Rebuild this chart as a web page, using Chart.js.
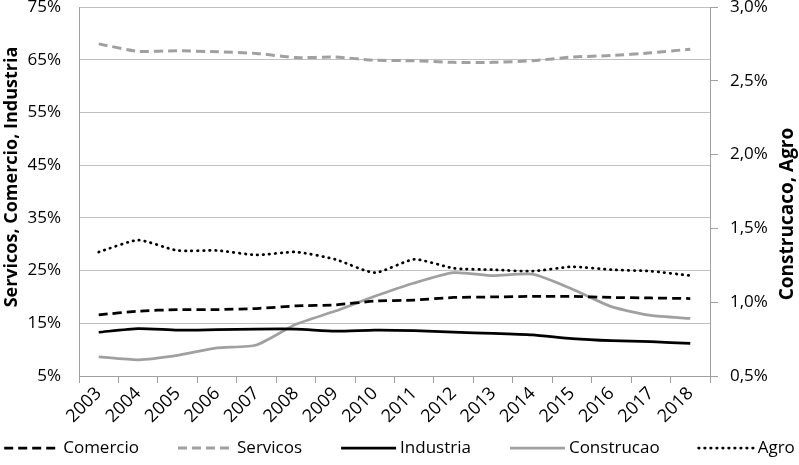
<!DOCTYPE html>
<html>
<head>
<meta charset="utf-8">
<script src="https://cdn.jsdelivr.net/npm/chart.js@4.4.1/dist/chart.umd.min.js"></script>
<style>
  body { margin: 0; background: #fff; }
</style>
</head>
<body>
<canvas id="grafico" width="799" height="465"></canvas>
<script>
// datos
var anos = ['2003', '2004', '2005', '2006', '2007', '2008', '2009', '2010',
            '2011', '2012', '2013', '2014', '2015', '2016', '2017', '2018'];
var comercio   = [16.6, 17.3, 17.6, 17.6, 17.8, 18.3, 18.5, 19.2, 19.4, 19.9, 20.0, 20.1, 20.1, 19.9, 19.8, 19.7];
var servicos   = [68.0, 66.6, 66.7, 66.5, 66.2, 65.4, 65.5, 64.9, 64.8, 64.5, 64.5, 64.8, 65.5, 65.8, 66.3, 67.0];
var industria  = [13.3, 14.0, 13.7, 13.8, 13.9, 13.9, 13.5, 13.7, 13.6, 13.3, 13.1, 12.8, 12.1, 11.7, 11.5, 11.2];
var construcao = [0.63, 0.61, 0.64, 0.69, 0.71, 0.85, 0.94, 1.04, 1.13, 1.20, 1.18, 1.19, 1.09, 0.97, 0.91, 0.89];
var agro       = [1.34, 1.42, 1.35, 1.35, 1.32, 1.34, 1.29, 1.20, 1.29, 1.23, 1.22, 1.21, 1.24, 1.22, 1.21, 1.18];

var tituloIzq = 'Servicos, Comercio, Industria';
var tituloDer = 'Construcaco, Agro';

var fuente = '"Open Sans", "Liberation Sans", sans-serif';
var gris = '#a0a0a0';

function serie(label, data, eje, color, ancho, dash, cap) {
    return {
        label: label,
        data: data,
        yAxisID: eje,
        borderColor: color,
        backgroundColor: color,
        borderWidth: ancho,
        borderDash: dash,
        borderCapStyle: cap || 'butt',
        pointRadius: 0,
        pointHoverRadius: 0,
        tension: 0.2,
        fill: false
    };
}

var datasets = [
    serie('Comercio', comercio, 'yIzq', '#000', 2.75, [9, 5]),
    serie('Servicos', servicos, 'yIzq', gris, 3, [9, 5]),
    serie('Industria', industria, 'yIzq', '#000', 2.75, []),
    serie('Construcao', construcao, 'yDer', gris, 2.75, []),
    serie('Agro', agro, 'yDer', '#000', 2.75, [0.5, 5.5], 'round')
];

// titulos de ejes y leyenda dibujados a mano
var extras = {
    id: 'extras',
    afterDraw: function(chart) {
        var ctx = chart.ctx;
        ctx.save();
        ctx.fillStyle = '#000';
        ctx.textBaseline = 'middle';
        ctx.textAlign = 'center';

        ctx.save();
        ctx.font = 'bold 18px ' + fuente;
        ctx.translate(12, 177);
        ctx.rotate(-Math.PI / 2);
        ctx.fillText(tituloIzq, 0, 0);
        ctx.restore();

        ctx.save();
        ctx.font = 'bold 19px ' + fuente;
        ctx.translate(788, 214);
        ctx.rotate(-Math.PI / 2);
        ctx.fillText(tituloDer, 0, 0);
        ctx.restore();

        // leyenda
        ctx.font = '17px ' + fuente;
        ctx.textAlign = 'left';
        var muestra = 55, hueco = 4, separa = 39;
        var ds = chart.data.datasets;
        var total = 0;
        ds.forEach(function(d, i) {
            total += muestra + hueco + ctx.measureText(d.label).width;
            if (i > 0) total += separa;
        });
        var x = (chart.width - total) / 2;
        var y = 448;
        ds.forEach(function(d) {
            ctx.save();
            ctx.strokeStyle = d.borderColor;
            ctx.lineWidth = d.borderWidth;
            ctx.setLineDash(d.borderDash);
            ctx.lineCap = d.borderCapStyle;
            ctx.beginPath();
            ctx.moveTo(x, y);
            ctx.lineTo(x + muestra, y);
            ctx.stroke();
            ctx.restore();
            x += muestra + hueco;
            ctx.fillText(d.label, x, y);
            x += ctx.measureText(d.label).width + separa;
        });
        ctx.restore();
    }
};

// los ejes y no reservan espacio extra arriba
function anchoFijo(w) {
    return function(s) {
        s.width = w;
        s.paddingTop = 7;
        s.paddingBottom = 0;
    };
}

var ctx = document.getElementById('grafico').getContext('2d');

var grafico = new Chart(ctx, {
    type: 'line',
    data: { labels: anos, datasets: datasets },
    options: {
        responsive: false,
        animation: false,
        layout: { padding: 0 },
        plugins: {
            legend: { display: false },
            tooltip: { enabled: false }
        },
        scales: {
            x: {
                offset: true,
                grid: { offset: true, drawOnChartArea: false, drawTicks: true, tickLength: 7, color: gris },
                border: { color: gris },
                ticks: {
                    color: '#000',
                    font: { family: fuente, size: 18 },
                    minRotation: 45,
                    maxRotation: 45,
                    padding: 0,
                    autoSkip: false
                },
                afterFit: function(s) { s.height = 89; }
            },
            yIzq: {
                position: 'left',
                min: 5,
                max: 75,
                grid: { color: '#c0c0c0', drawTicks: false },
                border: { color: gris },
                ticks: {
                    stepSize: 10,
                    color: '#000',
                    padding: 18,
                    font: { family: fuente, size: 17, lineHeight: 1 },
                    callback: function(v) { return v + '%'; }
                },
                afterFit: anchoFijo(79)
            },
            yDer: {
                position: 'right',
                min: 0.5,
                max: 3.0,
                grid: { drawOnChartArea: false, drawTicks: true, tickLength: 8, color: gris },
                border: { color: gris },
                ticks: {
                    stepSize: 0.5,
                    color: '#000',
                    padding: 12,
                    font: { family: fuente, size: 17, lineHeight: 1 },
                    callback: function(v) { return v.toFixed(1).replace('.', ',') + '%'; }
                },
                afterFit: anchoFijo(89)
            }
        }
    },
    plugins: [extras]
});
</script>
</body>
</html>
